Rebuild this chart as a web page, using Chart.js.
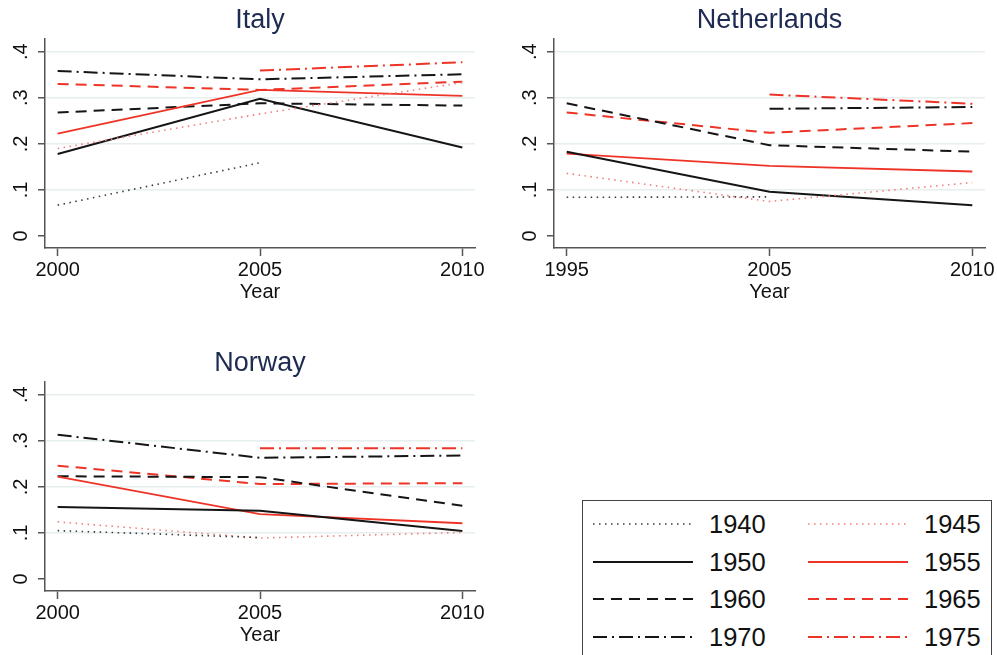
<!DOCTYPE html>
<html lang="en">
<head>
    <meta charset="UTF-8">
    <title>Cohort shares by country</title>
    <script src="https://cdn.jsdelivr.net/npm/chart.js"></script>
    <style>
        body {
            margin: 0;
            background: #fff;
            font-family: "Liberation Sans", Arial, Helvetica, sans-serif;
        }

        #wrap {
            position: relative;
            width: 997px;
            height: 655px;
            overflow: hidden;
        }

        canvas {
            position: absolute;
        }

        /* Legend box, cut off at the bottom like the original */
        #legend {
            position: absolute;
            left: 582px;
            top: 500px;
            width: 408px;
            height: 200px;
            border: 1.5px solid #444;
        }

        .key {
            position: absolute;
            width: 100px;
            height: 8px;
        }

        .key-label {
            position: absolute;
            font-size: 25.5px;
            line-height: 30px;
            color: #111;
        }
    </style>
</head>
<body>

<div id="wrap">
    <canvas id="italy" width="497" height="310" style="left:0;top:0"></canvas>
    <canvas id="netherlands" width="497" height="310" style="left:500px;top:0"></canvas>
    <canvas id="norway" width="497" height="310" style="left:0;top:343px"></canvas>
    <div id="legend"></div>
</div>

<script>
    // birth cohorts (one line each)
    const cohorts = ['1940', '1945', '1950', '1955', '1960', '1965', '1970', '1975'];

    // survey years per country
    const italyYears = ['2000', '2005', '2010'];
    const netherlandsYears = ['1995', '2005', '2010'];
    const norwayYears = ['2000', '2005', '2010'];

    const yTicks = [0, 0.1, 0.2, 0.3, 0.4];
    const yTickLabels = ['0', '.1', '.2', '.3', '.4'];

    // values per cohort, in the order of the survey years (null = not observed)
    const italyValues = [
        [0.067, 0.159, null],
        [0.190, 0.265, 0.333],
        [0.178, 0.298, 0.192],
        [0.222, 0.317, 0.304],
        [0.268, 0.288, 0.283],
        [0.330, 0.317, 0.335],
        [0.358, 0.340, 0.351],
        [null, 0.359, 0.377]
    ];

    const netherlandsValues = [
        [0.084, 0.085, null],
        [0.136, 0.075, 0.116],
        [0.183, 0.096, 0.067],
        [0.179, 0.152, 0.140],
        [0.288, 0.197, 0.183],
        [0.268, 0.224, 0.245],
        [null, 0.276, 0.280],
        [null, 0.307, 0.287]
    ];

    const norwayValues = [
        [0.105, 0.090, null],
        [0.124, 0.089, 0.101],
        [0.156, 0.148, 0.104],
        [0.222, 0.141, 0.121],
        [0.223, 0.221, 0.159],
        [0.246, 0.206, 0.208],
        [0.313, 0.263, 0.268],
        [null, 0.284, 0.284]
    ];

    // line styles per cohort
    const lineColors = ['#3a3a3a', '#f27d7a', '#151515', '#ee3427', '#151515', '#ee3427', '#151515', '#ee3427'];
    const lineDashes = [[1.5, 4.5], [1.5, 4.5], [], [], [11, 7], [11, 7], [14, 5, 2, 5], [14, 5, 2, 5]];
    const lineWidths = [1.6, 1.6, 2, 1.8, 2, 2, 2, 2];

    const fontFamily = '"Liberation Sans", Arial, Helvetica, sans-serif';
    const titleColor = '#1d2a52';
    const axisColor = '#555';

    Chart.defaults.font.family = fontFamily;

    function makePanel(canvasId, title, years, values, yAxisWidth, padRight) {
        const datasets = values.map((row, c) => ({
            label: cohorts[c],
            data: row.map((v, i) => ({ x: i, y: v })),
            borderColor: lineColors[c],
            borderDash: lineDashes[c],
            borderWidth: lineWidths[c],
            pointRadius: 0,
            tension: 0,
            fill: false,
            spanGaps: false
        }));

        return new Chart(document.getElementById(canvasId), {
            type: 'line',
            data: { datasets: datasets },
            options: {
                responsive: false,
                animation: false,
                layout: { padding: { left: 0, right: padRight, top: 0, bottom: 0 } },
                plugins: {
                    legend: { display: false },
                    tooltip: { enabled: false },
                    title: {
                        display: true,
                        text: title,
                        color: titleColor,
                        fullSize: false,
                        font: { size: 27, weight: 'normal', lineHeight: 1 },
                        padding: { top: 7, bottom: 5 }
                    }
                },
                scales: {
                    x: {
                        type: 'linear',
                        min: -0.0625,
                        max: 2.0625,
                        afterBuildTicks: s => { s.ticks = years.map((y, i) => ({ value: i })); },
                        afterFit: s => { s.height = 62; },
                        ticks: {
                            callback: (v, i) => years[i],
                            color: '#111',
                            font: { size: 20 },
                            padding: 2,
                            autoSkip: false,
                            maxRotation: 0
                        },
                        grid: { drawOnChartArea: false, tickLength: 8, tickColor: axisColor, tickWidth: 1.5 },
                        border: { color: axisColor, width: 1.5 },
                        title: {
                            display: true,
                            text: 'Year',
                            color: '#111',
                            font: { size: 20 },
                            padding: { top: 0, bottom: 6 }
                        }
                    },
                    y: {
                        min: -0.026,
                        max: 0.4275,
                        afterBuildTicks: s => { s.ticks = yTicks.map(v => ({ value: v })); },
                        afterFit: s => { s.width = yAxisWidth; },
                        ticks: {
                            callback: (v, i) => yTickLabels[i],
                            minRotation: 90,
                            maxRotation: 90,
                            crossAlign: 'center',
                            padding: 8,
                            color: '#111',
                            font: { size: 20 }
                        },
                        grid: {
                            color: ctx => (ctx.tick && ctx.tick.value === 0) ? 'rgba(0,0,0,0)' : '#e6eeee',
                            lineWidth: 1.5,
                            tickLength: 7,
                            tickColor: axisColor,
                            tickWidth: 1.5
                        },
                        border: { color: axisColor, width: 1.5 }
                    }
                }
            }
        });
    }

    makePanel('italy', 'Italy', italyYears, italyValues, 45, 22);
    makePanel('netherlands', 'Netherlands', netherlandsYears, netherlandsValues, 54, 12);
    makePanel('norway', 'Norway', norwayYears, norwayValues, 45, 22);

    // legend: two columns, cohort order left to right
    function buildLegend() {
        const legend = document.getElementById('legend');
        const boxLeft = 582, boxTop = 500;
        cohorts.forEach((name, i) => {
            const col = i % 2, row = Math.floor(i / 2);
            const cy = 523 + row * 37.5;
            const lineLeft = 592 + col * 215;

            const svg = document.createElementNS('http://www.w3.org/2000/svg', 'svg');
            svg.setAttribute('class', 'key');
            svg.setAttribute('width', '100');
            svg.setAttribute('height', '8');
            svg.style.left = (lineLeft - boxLeft) + 'px';
            svg.style.top = (cy - 4 - boxTop) + 'px';
            const line = document.createElementNS('http://www.w3.org/2000/svg', 'line');
            line.setAttribute('x1', '0');
            line.setAttribute('x2', '100');
            line.setAttribute('y1', '4');
            line.setAttribute('y2', '4');
            line.setAttribute('stroke', lineColors[i]);
            line.setAttribute('stroke-width', lineWidths[i]);
            if (lineDashes[i].length) line.setAttribute('stroke-dasharray', lineDashes[i].join(' '));
            svg.appendChild(line);
            legend.appendChild(svg);

            const label = document.createElement('div');
            label.className = 'key-label';
            label.textContent = name;
            label.style.left = (lineLeft + 116 - boxLeft) + 'px';
            label.style.top = (cy - 15 - boxTop) + 'px';
            legend.appendChild(label);
        });
    }

    buildLegend();
</script>

</body>
</html>
